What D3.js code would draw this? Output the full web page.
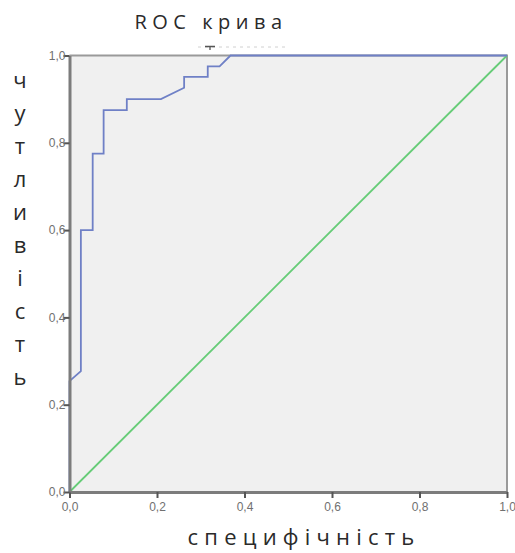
<!DOCTYPE html>
<html>
<head>
<meta charset="utf-8">
<script src="https://cdn.jsdelivr.net/npm/d3@7"></script>
<style>
  html, body { margin: 0; padding: 0; background: #ffffff; }
  svg { display: block; }
</style>
</head>
<body>
<svg id="chart" width="515" height="553"></svg>
<script>
// ROC curve points (false positive rate, true positive rate)
const fpr = [0, 0, 0.026, 0.026, 0.053, 0.053, 0.078, 0.078, 0.131, 0.131, 0.209, 0.262, 0.262, 0.316, 0.316, 0.343, 0.368, 1];
const tpr = [0, 0.254, 0.277, 0.6, 0.6, 0.775, 0.775, 0.875, 0.875, 0.9, 0.9, 0.926, 0.951, 0.951, 0.975, 0.975, 1, 1];
// Reference (chance) line
const refX = [0, 1];
const refY = [0, 1];
const tickValues = [0, 0.2, 0.4, 0.6, 0.8, 1.0];
const tickLabels = ["0,0", "0,2", "0,4", "0,6", "0,8", "1,0"];
const title = "ROC крива";
const xTitle = "специфічність";
const yTitle = "чутливість";

const svg = d3.select("#chart");
const x = d3.scaleLinear().domain([0, 1]).range([69.5, 507]);
const y = d3.scaleLinear().domain([0, 1]).range([492, 55.5]);

// plot background
svg.append("rect")
  .attr("x", x(0)).attr("y", y(1))
  .attr("width", x(1) - x(0)).attr("height", y(0) - y(1))
  .attr("fill", "#f0f0f0");

// top and right frame
svg.append("path")
  .attr("d", `M${x(0)},${y(1)}H${x(1)}V${y(0)}`)
  .attr("fill", "none").attr("stroke", "#9a9a9a").attr("stroke-width", 2);

// small marker above the frame
svg.append("line")
  .attr("x1", 198).attr("x2", 285).attr("y1", 47).attr("y2", 47)
  .attr("stroke", "#d0d0d0").attr("stroke-width", 1).attr("stroke-dasharray", "3,4");
svg.append("path")
  .attr("d", "M205,46.5H215M210,46.5V50")
  .attr("stroke", "#555").attr("stroke-width", 1.3).attr("fill", "none");

// chance diagonal
svg.append("path")
  .datum(refX.map((v, i) => [v, refY[i]]))
  .attr("d", d3.line().x(d => x(d[0])).y(d => y(d[1])))
  .attr("fill", "none").attr("stroke", "#66cc77").attr("stroke-width", 1.8);

// ROC curve
svg.append("path")
  .datum(fpr.map((v, i) => [v, tpr[i]]))
  .attr("d", d3.line().x(d => x(d[0])).y(d => y(d[1])))
  .attr("fill", "none").attr("stroke", "#6f80c6").attr("stroke-width", 1.8)
  .attr("stroke-linejoin", "miter");

// axes
const fmt = d => tickLabels[tickValues.indexOf(d)];
const xAxis = svg.append("g")
  .attr("transform", `translate(0,${y(0)})`)
  .call(d3.axisBottom(x).tickValues(tickValues).tickFormat(fmt).tickSize(6).tickSizeOuter(0));
const yAxis = svg.append("g")
  .attr("transform", `translate(${x(0)},0)`)
  .call(d3.axisLeft(y).tickValues(tickValues).tickFormat(fmt).tickSize(6).tickSizeOuter(0));

[xAxis, yAxis].forEach(g => {
  g.select(".domain").attr("stroke", "#7c7c7c").attr("stroke-width", 3);
  g.selectAll(".tick line").attr("stroke", "#555").attr("stroke-width", 2);
  g.selectAll(".tick text")
    .attr("fill", "#707070")
    .style("font-family", "'Liberation Sans', Arial, sans-serif")
    .style("font-size", "12px");
});
xAxis.selectAll(".tick text").attr("y", 10);
yAxis.selectAll(".tick text").attr("x", -4);

// chart title
svg.append("text")
  .attr("x", 211).attr("y", 29)
  .attr("text-anchor", "middle")
  .style("font-family", "'Open Sans', sans-serif")
  .style("font-size", "20px")
  .style("font-weight", 400)
  .style("letter-spacing", "5.5px")
  .attr("fill", "#2a2a2a")
  .text(title);

// x axis title
svg.append("text")
  .attr("x", 304).attr("y", 545)
  .attr("text-anchor", "middle")
  .style("font-family", "'Open Sans', sans-serif")
  .style("font-size", "22px")
  .style("font-weight", 500)
  .style("letter-spacing", "6.2px")
  .attr("fill", "#2a2a2a")
  .text(xTitle);

// y axis title, one letter per line
svg.append("g").selectAll("text")
  .data(Array.from(yTitle))
  .join("text")
  .attr("x", 20)
  .attr("y", (d, i) => 88 + i * 33)
  .attr("text-anchor", "middle")
  .style("font-family", "'Open Sans', sans-serif")
  .style("font-size", "22px")
  .style("font-weight", 500)
  .attr("fill", "#2a2a2a")
  .text(d => d);
</script>
</body>
</html>
